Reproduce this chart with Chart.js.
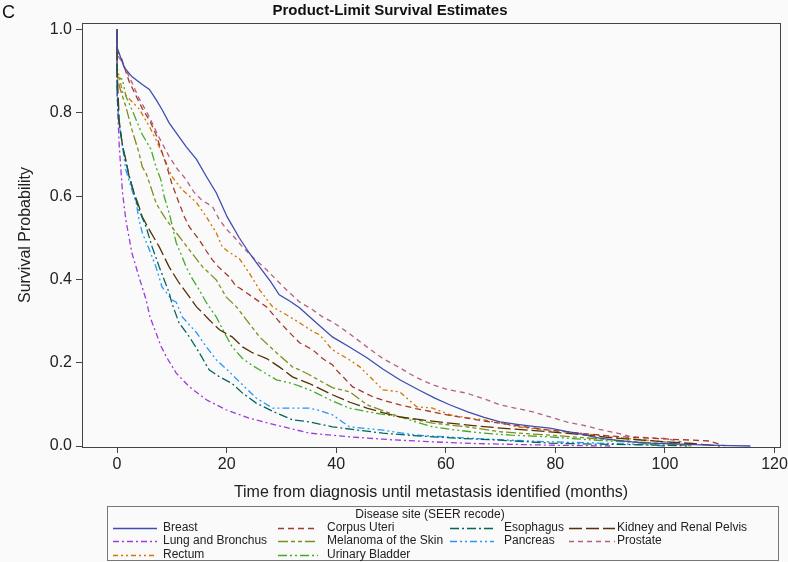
<!DOCTYPE html>
<html><head><meta charset="utf-8">
<script src="https://cdn.jsdelivr.net/npm/chart.js@4/dist/chart.umd.min.js"></script>
<style>
html,body{margin:0;padding:0;background:#fafafa;}
#wrap{position:relative;width:788px;height:562px;overflow:hidden;}
#lab{position:absolute;left:2px;top:2px;font:18px "Liberation Sans",Arial,sans-serif;color:#111;}
canvas{display:block}
</style></head><body>
<div id="wrap"><canvas id="c" width="788" height="562"></canvas><div id="lab">C</div></div>
<script>
const FONT = '"Liberation Sans", Arial, sans-serif';
const chartTitle = 'Product-Limit Survival Estimates';
const xTitle = 'Time from diagnosis until metastasis identified (months)';
const yTitle = 'Survival Probability';
const legendTitle = 'Disease site (SEER recode)';
const xTicks = [0, 20, 40, 60, 80, 100, 120];
const yTicks = [0, 0.2, 0.4, 0.6, 0.8, 1.0];
const seriesNames = ['Breast', 'Corpus Uteri', 'Esophagus', 'Kidney and Renal Pelvis', 'Lung and Bronchus',
  'Melanoma of the Skin', 'Pancreas', 'Prostate', 'Rectum', 'Urinary Bladder'];

const breastTime = [0,0,1.3,2.7,4.6,5.9,7.1,8.2,9.5,10.8,12.6,14.5,16.3,18.1,20.1,22.3,24.1,26,28,29.6,31.5,33.3,36,39.3,42.5,45.6,48.5,51.6,55,58,60.7,64,67,69.9,73,76,79,82,85,88,91,94,97,100,104,108,112,115.6];
const breastSurv = [1,0.957,0.909,0.887,0.868,0.856,0.832,0.808,0.776,0.752,0.719,0.688,0.647,0.608,0.55,0.50,0.464,0.43,0.395,0.363,0.348,0.332,0.30,0.262,0.237,0.212,0.185,0.159,0.135,0.115,0.099,0.082,0.069,0.058,0.052,0.047,0.043,0.035,0.028,0.019,0.014,0.010,0.007,0.006,0.004,0.002,0.001,0];

const corpusTime = [0,0,0.7,2.2,3.5,4.6,6,7.1,8.6,9,10,11.3,12.3,13.2,15,16.2,17.4,18.5,20.5,21.8,22.3,24.5,27.3,29.5,31.5,33.3,35.7,37.5,39.3,40,43,46.7,49,51.6,54.5,57.6,60.5,63.8,67,69.9,75,79,85,90,95,100,105,108,111];
const corpusSurv = [1,0.95,0.935,0.875,0.84,0.81,0.78,0.748,0.69,0.675,0.63,0.584,0.55,0.526,0.495,0.47,0.447,0.43,0.406,0.382,0.38,0.36,0.334,0.30,0.272,0.248,0.231,0.21,0.195,0.183,0.142,0.118,0.108,0.099,0.09,0.082,0.074,0.067,0.06,0.055,0.045,0.038,0.03,0.024,0.02,0.017,0.014,0.012,0];

const esophagusTime = [0,0,0.3,1,2,3,4,5.3,6.4,7.7,9.5,10,11.3,13.2,15,16.8,18.7,21,22.9,25.4,29.1,32,35.1,39.3,44,48.5,53,57.6,63,70,79,85,90,95,100,104];
const esophagusSurv = [1,0.86,0.78,0.72,0.66,0.61,0.567,0.526,0.478,0.43,0.368,0.343,0.296,0.262,0.224,0.183,0.166,0.15,0.127,0.103,0.079,0.063,0.058,0.046,0.038,0.031,0.026,0.022,0.018,0.014,0.007,0.005,0.004,0.003,0.002,0];

const kidneyTime = [0,0,0.4,1,1.6,2.2,3.1,4,4.6,5.9,7.7,9.5,11.3,13.2,14.5,15.6,16.8,18.7,21,22.9,24.7,27.3,29.6,32,35.1,39.3,42.5,45.6,48.5,51.6,56,60.7,65,70,75,79,85,90,95,100,105,110];
const kidneySurv = [1,0.9,0.78,0.72,0.687,0.647,0.608,0.575,0.55,0.519,0.478,0.43,0.392,0.358,0.334,0.32,0.303,0.279,0.262,0.238,0.224,0.21,0.19,0.166,0.15,0.123,0.105,0.091,0.08,0.07,0.062,0.055,0.049,0.043,0.038,0.034,0.027,0.02,0.015,0.01,0.006,0];

const lungTime = [0,0,0.2,0.4,0.7,1,1.6,2.7,4,5.3,6,7.1,8,9,10.8,13.2,16.3,19.9,24.1,29.1,35.1,42.4,50,57.6,65,72,79,90];
const lungSurv = [1,0.86,0.78,0.72,0.663,0.608,0.543,0.464,0.406,0.351,0.31,0.272,0.24,0.214,0.175,0.142,0.111,0.087,0.067,0.05,0.031,0.022,0.015,0.01,0.006,0.004,0.002,0];

const melanomaTime = [0,0,0.5,1.6,2.7,4,4.6,5.3,6.2,7.1,7.7,9,10.8,13.2,15.6,18.1,19.9,21.8,22.9,26,29.1,32,33.3,35.1,39.3,42.5,45.6,48.5,51.6,57.6,63.8,70,79,85,90,95,100,105];
const melanomaSurv = [1,0.89,0.86,0.815,0.76,0.704,0.67,0.655,0.62,0.584,0.57,0.543,0.512,0.471,0.43,0.399,0.358,0.334,0.315,0.262,0.224,0.19,0.183,0.171,0.14,0.13,0.099,0.085,0.07,0.055,0.046,0.034,0.026,0.02,0.015,0.01,0.006,0];

const pancreasTime = [0,0,0.3,1,1.6,2.7,3.5,4,4.6,5.9,7.1,8.2,10,10.8,11.9,14.5,16.3,18.1,20.5,22.9,25.4,28.4,32,35.1,37,39.3,42.4,48.5,54.7,63.8,70,79,85,90,95,100];
const pancreasSurv = [1,0.84,0.78,0.72,0.663,0.615,0.584,0.543,0.512,0.471,0.43,0.382,0.351,0.345,0.31,0.272,0.238,0.207,0.178,0.147,0.115,0.091,0.091,0.091,0.085,0.075,0.046,0.038,0.026,0.019,0.015,0.01,0.008,0.006,0.004,0];

const prostateTime = [0,0,1,2.7,4,5.9,7.5,9.5,11,12.6,14,15.5,17.4,18.7,20,21.5,22.9,25,27.3,29,30.9,33.3,35.7,37.5,39.3,42.4,45.6,48.5,51.6,54.5,57.6,60.5,63.8,67,69.9,73,75.9,79,82,85,88,91.3,94,97,100,103];
const prostateSurv = [1,0.94,0.92,0.873,0.835,0.79,0.745,0.695,0.665,0.64,0.61,0.59,0.575,0.543,0.52,0.50,0.478,0.45,0.423,0.40,0.375,0.346,0.327,0.31,0.298,0.27,0.238,0.21,0.188,0.165,0.147,0.135,0.127,0.113,0.099,0.09,0.082,0.07,0.058,0.05,0.04,0.031,0.022,0.02,0.018,0.01];

const rectumTime = [0,0,0.5,1,2.7,4,5.9,7.1,8.2,10,11.9,13.2,14.5,16.3,18.1,19.2,20.5,21.8,22.3,24.1,26,28.4,30.9,33.3,35.7,37,39.3,42.4,44.3,46.7,48.5,51.6,54.7,57.6,60.7,63.8,66.8,70,73,76,79,85,90,95,100,104];
const rectumSurv = [1,0.91,0.88,0.85,0.827,0.81,0.767,0.735,0.704,0.647,0.615,0.60,0.584,0.55,0.512,0.478,0.465,0.454,0.45,0.416,0.375,0.334,0.315,0.296,0.275,0.267,0.231,0.207,0.19,0.159,0.135,0.13,0.094,0.091,0.075,0.068,0.063,0.055,0.046,0.042,0.038,0.03,0.022,0.016,0.01,0];

const bladderTime = [0,0,1,1.6,2.7,4,4.6,6.2,7.1,8,8.6,9.5,10.8,11.7,12.6,13.8,15,16.3,18.1,19.6,21,22.9,24.5,26,29.1,32,35.1,36.4,39,42.4,45,48,51.6,54.5,57.6,62,66.8,72,79,85,90,95,100];
const bladderSurv = [1,0.887,0.88,0.84,0.808,0.767,0.748,0.712,0.67,0.639,0.599,0.56,0.488,0.46,0.43,0.40,0.375,0.344,0.31,0.272,0.238,0.21,0.195,0.183,0.159,0.15,0.135,0.127,0.11,0.091,0.084,0.077,0.07,0.058,0.046,0.038,0.031,0.026,0.022,0.016,0.012,0.008,0];

const seriesTimes = [breastTime, corpusTime, esophagusTime, kidneyTime, lungTime, melanomaTime, pancreasTime, prostateTime, rectumTime, bladderTime];
const seriesSurvs = [breastSurv, corpusSurv, esophagusSurv, kidneySurv, lungSurv, melanomaSurv, pancreasSurv, prostateSurv, rectumSurv, bladderSurv];

const colors = ['#3f4db0','#a23a2e','#01665e','#543005','#9d3cdb','#7f8e1f','#2597fa','#b26084','#d17800','#47a82a'];
const dashes = [[], [6,4], [9,3,2,3], [13,4], [6,3,2,3], [10,3,4,3,4,3], [7,3,2,3,2,3], [5,4], [5,3,2,3,2,3], [9,3,2,3,2,3]];

const datasets = seriesNames.map((name, i) => ({
  label: name,
  data: seriesTimes[i].map((t, j) => ({x: t, y: seriesSurvs[i][j]})),
  borderColor: colors[i],
  borderDash: dashes[i],
  borderWidth: 1.3,
  pointRadius: 0,
  fill: false,
  tension: 0,
  stepped: false
}));

const framePlugin = {
  id: 'frame',
  afterDraw(chart) {
    const {ctx, chartArea: a} = chart;
    ctx.save();
    ctx.strokeStyle = '#444';
    ctx.lineWidth = 1;
    ctx.setLineDash([]);
    ctx.strokeRect(Math.round(a.left) + 0.5, Math.round(a.top) + 0.5, Math.round(a.right - a.left), Math.round(a.bottom - a.top));
    ctx.restore();
  }
};

const legendPlugin = {
  id: 'gridLegend',
  afterDraw(chart) {
    const ctx = chart.ctx;
    const box = {left: 107, top: 506, right: 778, bottom: 560};
    const cols = [{l0: 113, l1: 157, tx: 163}, {l0: 278, l1: 318, tx: 327}, {l0: 450, l1: 494, tx: 504}, {l0: 569, l1: 615, tx: 617}];
    const rows = [527.5, 541, 554.5];
    ctx.save();
    ctx.strokeStyle = '#777';
    ctx.lineWidth = 1;
    ctx.setLineDash([]);
    ctx.strokeRect(box.left + 0.5, box.top + 0.5, box.right - box.left, box.bottom - box.top);
    ctx.fillStyle = '#222';
    ctx.font = '12px ' + FONT;
    ctx.textBaseline = 'middle';
    ctx.textAlign = 'center';
    ctx.fillText(legendTitle, 430, 515);
    ctx.textAlign = 'left';
    chart.data.datasets.forEach((ds, i) => {
      const c = cols[i % 4], y = rows[Math.floor(i / 4)];
      ctx.strokeStyle = ds.borderColor;
      ctx.lineWidth = 1.3;
      ctx.setLineDash(ds.borderDash);
      ctx.beginPath();
      ctx.moveTo(c.l0, Math.round(y) + 0.5);
      ctx.lineTo(c.l1, Math.round(y) + 0.5);
      ctx.stroke();
      ctx.fillStyle = '#222';
      ctx.fillText(ds.label, c.tx, y);
    });
    ctx.restore();
  }
};

new Chart(document.getElementById('c'), {
  type: 'line',
  data: {datasets},
  options: {
    responsive: false,
    animation: false,
    devicePixelRatio: 1,
    layout: {padding: {left: 0, right: 8, top: 0, bottom: 57}},
    plugins: {
      legend: {display: false},
      tooltip: {enabled: false},
      title: {display: true, text: chartTitle, color: '#111', font: {family: FONT, size: 15, weight: 'bold'}, padding: {top: 2, bottom: 3}}
    },
    scales: {
      x: {
        type: 'linear', min: -6.4, max: 121,
        grid: {display: true, drawOnChartArea: false, drawTicks: true, tickLength: 6, color: '#444'},
        border: {display: false},
        ticks: {font: {family: FONT, size: 16}, color: '#222', padding: 2, maxRotation: 0},
        afterBuildTicks: s => { s.ticks = xTicks.map(v => ({value: v})); },
        afterFit: s => { s.height = 58; s.paddingLeft = 0; s.paddingRight = 0; },
        title: {display: true, text: xTitle, color: '#222', font: {family: FONT, size: 16}, padding: {top: 0, bottom: 3}}
      },
      y: {
        type: 'linear', min: -0.0024, max: 1.0156,
        grid: {display: true, drawOnChartArea: false, drawTicks: true, tickLength: 6, color: '#444'},
        border: {display: false},
        ticks: {font: {family: FONT, size: 16}, color: '#222', padding: 4, callback: v => v.toFixed(1)},
        afterBuildTicks: s => { s.ticks = yTicks.map(v => ({value: v})); },
        afterFit: s => { s.width = 82; s.paddingTop = 0; s.paddingBottom = 0; },
        title: {display: true, text: yTitle, color: '#222', font: {family: FONT, size: 16}, padding: {top: 16, bottom: 0}}
      }
    }
  },
  plugins: [framePlugin, legendPlugin]
});
</script>
</body></html>
